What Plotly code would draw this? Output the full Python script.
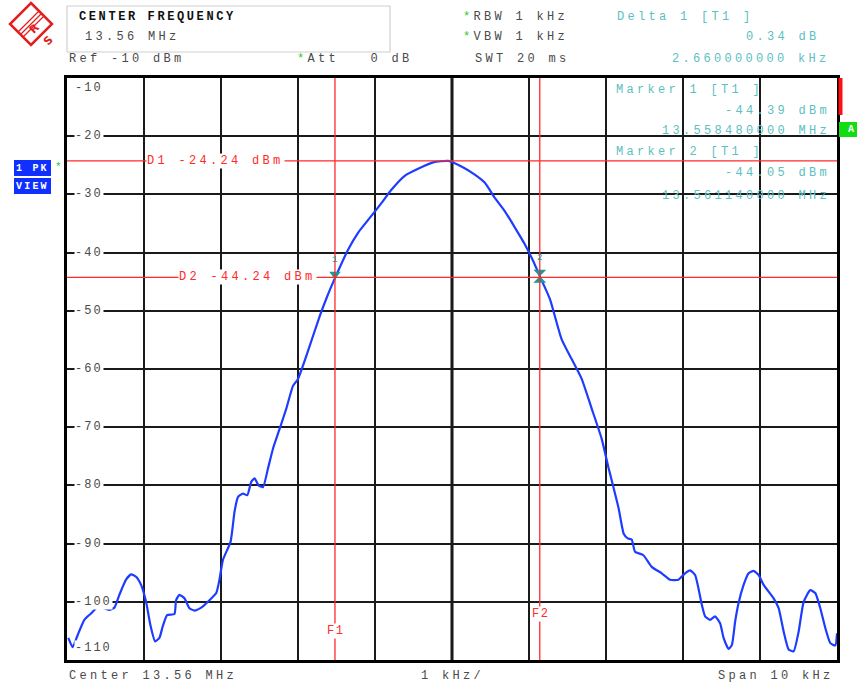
import plotly.graph_objects as go

# ---------------- data ----------------
center_mhz = 13.56
span_khz = 10
ref_level = -10
level_range = 100

freq_khz = [-4.983, -4.926, -4.861, -4.775, -4.688, -4.601, -4.536, -4.45, -4.385, -4.32,
            -4.233, -4.168, -4.103, -4.038, -3.973, -3.917, -3.856, -3.8, -3.756, -3.7,
            -3.605, -3.583, -3.54, -3.475, -3.41, -3.345, -3.257, -3.17, -3.062, -3.02,
            -2.975, -2.876, -2.824, -2.78, -2.715, -2.659, -2.607, -2.564, -2.512, -2.455,
            -2.39, -2.325, -2.239, -2.152, -2.065, -2.0, -1.86, -1.72, -1.62, -1.52,
            -1.35, -1.22, -1.047, -0.917, -0.787, -0.614, -0.44, -0.245, -0.049, 0.123,
            0.296, 0.427, 0.556, 0.687, 0.817, 0.947, 1.056, 1.14, 1.272, 1.424,
            1.554, 1.684, 1.814, 1.944, 2.035, 2.1, 2.165, 2.23, 2.282, 2.334,
            2.377, 2.486, 2.594, 2.724, 2.832, 2.941, 3.027, 3.092, 3.157, 3.201,
            3.244, 3.287, 3.352, 3.417, 3.482, 3.527, 3.592, 3.635, 3.677, 3.722,
            3.787, 3.852, 3.917, 3.982, 4.047, 4.177, 4.242, 4.307, 4.372, 4.437,
            4.502, 4.567, 4.653, 4.718, 4.783, 4.848, 4.913, 4.978, 5.0]
level_dbm = [-106.2, -107.8, -105.7, -103.1, -102.0, -100.9, -101.0, -101.4, -101.0, -98.8,
             -96.2, -95.3, -95.7, -97.1, -100.0, -104.0, -106.8, -106.2, -104.2, -102.3,
             -102.1, -99.7, -98.8, -99.4, -101.1, -101.5, -101.0, -100.0, -98.5, -96.2,
             -92.8, -89.7, -84.5, -82.0, -81.4, -81.7, -79.4, -78.8, -80.0, -80.3,
             -77.1, -73.7, -70.3, -66.8, -62.9, -61.7, -56.5, -51.0, -47.5, -44.39,
             -39.5, -36.6, -33.7, -31.5, -29.2, -26.8, -25.6, -24.5, -24.24, -25.2,
             -26.6, -28.0, -30.6, -32.9, -35.7, -38.6, -41.5, -44.05, -48.0, -54.9,
             -58.3, -61.7, -66.8, -72.0, -77.1, -80.5, -84.0, -88.3, -89.1, -89.3,
             -91.4, -92.0, -94.0, -95.1, -96.2, -96.2, -95.1, -94.6, -95.4, -97.7,
             -100.5, -102.5, -103.1, -102.5, -103.7, -106.2, -108.1, -107.4, -103.4, -100.2,
             -97.1, -95.1, -94.7, -95.4, -97.1, -99.4, -101.1, -105.1, -108.2, -108.5,
             -105.1, -100.0, -98.0, -98.5, -101.1, -104.5, -107.1, -107.5, -105.4]

marker_names = ["1", "2"]
marker_freq_mhz = [13.558480, 13.561140]
marker_level_dbm = [-44.39, -44.05]
delta_db = 0.34
delta_khz = 2.660000000
display_lines = {"D1": -24.24, "D2": -44.24}
y_ticks = [-10, -20, -30, -40, -50, -60, -70, -80, -90, -100, -110]

# ---------------- layout helpers ----------------
W, H = 857, 684
X0, X1, Y0, Y1 = 67, 837, 78, 660
PW, PH = X1 - X0, Y1 - Y0
MONO = "Liberation Mono, Courier New, monospace"
GRAY = "#4a4a4a"
CYAN = "#5cc0c0"
RED = "#ff2a2a"
TEAL = "#1c9a9a"
BLUE = "#1e3cff"
GREEN = "#22cc22"
LOGO = "#e02020"


def px(x):
    return (x - X0) / PW


def py(y):
    return (Y1 - y) / PH


def sp(t, ls=3.3):
    return f'<span style="letter-spacing:{ls}px">{t}</span>'


annotations = []


def T(text, x, y, color=GRAY, size=12, xanchor="left", bold=False, bg=None, ls=3.3, font=MONO):
    t = sp(text, ls)
    if bold:
        t = "<b>" + t + "</b>"
    a = dict(text=t, x=px(x), y=py(y), xref="paper", yref="paper", xanchor=xanchor,
             yanchor="middle", showarrow=False, font=dict(family=font, size=size, color=color),
             borderpad=0)
    if bg:
        a["bgcolor"] = bg
    annotations.append(a)


def ypix(v):
    return Y0 + (ref_level - v) / level_range * PH


def xpix(v):
    return X0 + (v + span_khz / 2) / span_khz * PW


fig = go.Figure()

# trace
fig.add_trace(go.Scatter(x=freq_khz, y=level_dbm, mode="lines",
                         line=dict(color=BLUE, width=2.2, shape="spline", smoothing=0.5),
                         hoverinfo="skip"))

mk_x = [(f - center_mhz) * 1000 for f in marker_freq_mhz]

shapes = []
# center grid line thicker
shapes.append(dict(type="line", xref="x", yref="paper", x0=0, x1=0, y0=0, y1=1,
                   line=dict(color="#111", width=3), layer="below"))
# display lines
for name, val in display_lines.items():
    shapes.append(dict(type="line", xref="paper", yref="y", x0=0, x1=1, y0=val, y1=val,
                       line=dict(color=RED, width=1.3)))
# frequency lines at markers
for xv in mk_x:
    shapes.append(dict(type="line", xref="x", yref="paper", x0=xv, x1=xv, y0=0, y1=1,
                       line=dict(color=RED, width=1.3)))

# marker symbols
fig.add_trace(go.Scatter(x=[mk_x[0]], y=[marker_level_dbm[0] + 4 / (PH / level_range)], mode="markers",
                         marker=dict(symbol="triangle-down", size=10, color=TEAL), hoverinfo="skip"))
fig.add_trace(go.Scatter(x=[mk_x[1]], y=[marker_level_dbm[1]], mode="markers",
                         marker=dict(symbol="hourglass", size=13, color=TEAL), hoverinfo="skip"))
for n, xv, yv in zip(marker_names, mk_x, marker_level_dbm):
    annotations.append(dict(text=n, x=xv, y=yv, xref="x", yref="y", yshift=18, showarrow=False,
                            font=dict(family=MONO, size=9, color=TEAL)))

# y labels inside plot
for v in y_ticks:
    yp = ypix(v)
    if v == ref_level:
        yp += 10
    elif v == ref_level - level_range:
        yp -= 12
    T(f"{v}", 74, yp, bg="white", ls=2.0, size=12)

# display line labels
T(f"D1 {display_lines['D1']:.2f} dBm", 146, ypix(display_lines['D1']), color=RED, bg="white")
T(f"D2 {display_lines['D2']:.2f} dBm", 178, ypix(display_lines['D2']), color=RED, bg="white")
# F labels
for i, xv in enumerate(mk_x):
    T(f"F{i+1}", xpix(xv) + 1, 631 if i == 0 else 614, color=RED, xanchor="center", bg="white", ls=1.5)

# marker readouts inside plot
T("Marker 1 [T1 ]", 615, 90, color=CYAN)
T(f"{marker_level_dbm[0]:.2f} dBm", 831, 111, color=CYAN, xanchor="right")
T(f"{marker_freq_mhz[0]:.9f} MHz", 831, 131, color=CYAN, xanchor="right")
T("Marker 2 [T1 ]", 615, 152, color=CYAN)
T(f"{marker_level_dbm[1]:.2f} dBm", 831, 173, color=CYAN, xanchor="right")
T(f"{marker_freq_mhz[1]:.9f} MHz", 831, 196, color=CYAN, xanchor="right")

# header
shapes.append(dict(type="rect", xref="paper", yref="paper", x0=px(67), x1=px(390), y0=py(6), y1=py(52),
                   line=dict(color="#cfcfcf", width=1.2), fillcolor="white"))
T("CENTER FREQUENCY", 78, 17, color="#111", bold=True, size=12, ls=2.6)
T(f"{center_mhz:.2f} MHz", 84, 37, color=GRAY)
T(f"Ref {ref_level} dBm", 68, 59, color=GRAY)
T('<span style="color:#22cc22">*</span>Att\u00a0\u00a0 0 dB', 296, 59, color=GRAY)
T('<span style="color:#22cc22">*</span>RBW 1 kHz', 462, 17, color=GRAY)
T('<span style="color:#22cc22">*</span>VBW 1 kHz', 462, 37, color=GRAY)
T("SWT 20 ms", 474, 59, color=GRAY)
T("Delta 1 [T1 ]", 616, 17, color=CYAN)
T(f"{delta_db:.2f} dB", 821, 37, color=CYAN, xanchor="right")
T(f"{delta_khz:.9f} kHz", 831, 59, color=CYAN, xanchor="right")

# footer
T(f"Center {center_mhz:.2f} MHz", 68, 676, color=GRAY)
T("1 kHz/", 420, 676, color=GRAY)
T(f"Span {span_khz} kHz", 835, 676, color=GRAY, xanchor="right")

# side widgets
shapes.append(dict(type="rect", xref="paper", yref="paper", x0=px(838.5), x1=px(842.5), y0=py(78), y1=py(115),
                   line=dict(width=0), fillcolor="#ff1010"))
shapes.append(dict(type="rect", xref="paper", yref="paper", x0=px(839), x1=px(858), y0=py(122), y1=py(137),
                   line=dict(width=0), fillcolor="#11dd11"))
T("A", 847, 129.5, color="white", bold=True, size=10, ls=0)
for lbl, y0_, y1_ in [("1 PK", 160, 176), ("VIEW", 178, 194)]:
    shapes.append(dict(type="rect", xref="paper", yref="paper", x0=px(14), x1=px(51), y0=py(y0_), y1=py(y1_),
                       line=dict(width=0), fillcolor="#1030ff"))
    T(lbl, 32.5, (y0_ + y1_) / 2, color="white", bold=True, size=10, xanchor="center", ls=2.2)
T("*", 54, 167, color=GREEN, size=11, ls=0)

# R&S logo
cx, cy, r = 31, 24, 21
shapes.append(dict(type="path", xref="paper", yref="paper",
                   path=f"M {px(cx)} {py(cy - r)} L {px(cx + r)} {py(cy)} L {px(cx)} {py(cy + r)} L {px(cx - r)} {py(cy)} Z",
                   line=dict(color=LOGO, width=2.5), fillcolor="white"))
for d in (-2.5, 0, 2.5):
    shapes.append(dict(type="line", xref="paper", yref="paper",
                       x0=px(cx - 10 + d), y0=py(cy + 10 + d), x1=px(cx + 10 + d), y1=py(cy - 10 + d),
                       line=dict(color=LOGO, width=1.2)))
annotations.append(dict(text="<b>R</b>", x=px(cx - 7), y=py(cy - 6), xref="paper", yref="paper",
                        showarrow=False, textangle=-45, font=dict(family="DejaVu Sans", size=11, color=LOGO)))
annotations.append(dict(text="<b>S</b>", x=px(cx + 7), y=py(cy + 6), xref="paper", yref="paper",
                        showarrow=False, textangle=-45, font=dict(family="DejaVu Sans", size=11, color=LOGO)))

fig.update_layout(
    width=W, height=H,
    margin=dict(l=X0, r=W - X1, t=Y0, b=H - Y1),
    paper_bgcolor="white", plot_bgcolor="white",
    showlegend=False,
    shapes=shapes, annotations=annotations,
    xaxis=dict(range=[-span_khz / 2, span_khz / 2], dtick=1, tick0=0, showgrid=True, gridcolor="#1a1a1a",
               gridwidth=1.5, showticklabels=False, ticks="", zeroline=False, showline=True,
               linecolor="black", linewidth=3, mirror=True, fixedrange=True),
    yaxis=dict(range=[ref_level - level_range, ref_level], dtick=10, tick0=-10, showgrid=True,
               gridcolor="#1a1a1a", gridwidth=1.5, showticklabels=False, ticks="", zeroline=False,
               showline=True, linecolor="black", linewidth=3, mirror=True, fixedrange=True),
)

fig.write_html("out.html", config={"displayModeBar": False})
